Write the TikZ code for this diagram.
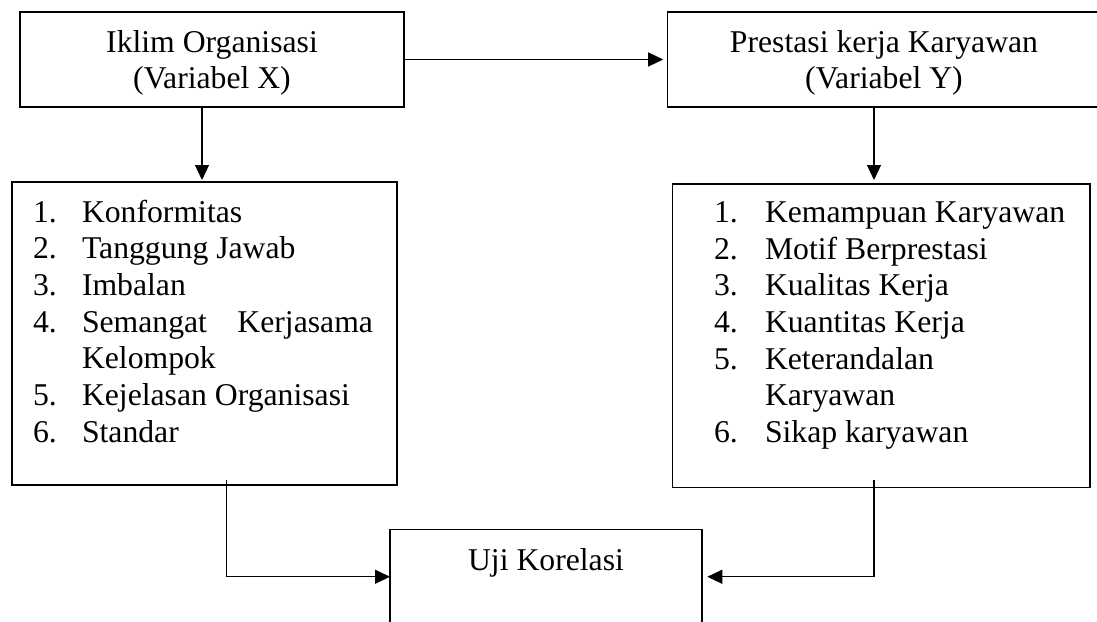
\documentclass[tikz,border=0pt]{standalone}
\usepackage{fontspec}
\setmainfont{Liberation Serif}
\usetikzlibrary{arrows.meta}
\begin{document}
\begin{tikzpicture}[x=1pt,y=-1pt,
  box/.style={draw, line width=1.3pt, inner sep=0pt, outer sep=0pt},
  txt/.style={inner sep=0pt, outer sep=0pt, font=\fontsize{31.7pt}{36.6pt}\selectfont},
  arr/.style={line width=1.3pt, -{Triangle[length=15pt,width=14pt]}}]
\fill[white] (0,0) rectangle (1097,621);
\useasboundingbox (0,0) rectangle (1097,621);
% boxes
\node[box, minimum width=384pt, minimum height=95pt] (A) at (212,59.5) {};
\node[box, minimum width=432.6pt, minimum height=95pt] (B) at (884,59.5) {};
\node[box, minimum width=385pt, minimum height=303pt] (C) at (204.5,333.5) {};
\node[box, minimum width=417.3pt, minimum height=303.7pt] (D) at (881.35,335.85) {};
\node[box, minimum width=312pt, minimum height=110.5pt] (E) at (546,584.75) {};
% box titles
\node[txt, anchor=base] (a1) at (212,52) {Iklim Organisasi};
\node[txt, anchor=base] (a2) at (212,88) {(Variabel X)};
\node[txt, anchor=base] (b1) at (884,52) {Prestasi kerja Karyawan};
\node[txt, anchor=base] (b2) at (884,88) {(Variabel Y)};
\node[txt, anchor=base] (e1) at (546,570) {Uji Korelasi};
% left list
\node[txt, anchor=base west] (cn1) at (33,222) {1.};
\node[txt, anchor=base west] (ct1) at (82,222) {Konformitas};
\node[txt, anchor=base west] (cn2) at (33,258.7) {2.};
\node[txt, anchor=base west] (ct2) at (82,258.7) {Tanggung Jawab};
\node[txt, anchor=base west] (cn3) at (33,295.3) {3.};
\node[txt, anchor=base west] (ct3) at (82,295.3) {Imbalan};
\node[txt, anchor=base west] (cn4) at (33,332) {4.};
\node[txt, anchor=base west] (ct4) at (82,332) {Semangat};
\node[txt, anchor=base east] (ct4b) at (373,332) {Kerjasama};
\node[txt, anchor=base west] (ct4c) at (82,368.7) {Kelompok};
\node[txt, anchor=base west] (cn5) at (33,405.3) {5.};
\node[txt, anchor=base west] (ct5) at (82,405.3) {Kejelasan Organisasi};
\node[txt, anchor=base west] (cn6) at (33,442) {6.};
\node[txt, anchor=base west] (ct6) at (82,442) {Standar};
% right list
\node[txt, anchor=base west] (dn1) at (714,222.5) {1.};
\node[txt, anchor=base west] (dt1) at (765,222.5) {Kemampuan Karyawan};
\node[txt, anchor=base west] (dn2) at (714,259.2) {2.};
\node[txt, anchor=base west] (dt2) at (765,259.2) {Motif Berprestasi};
\node[txt, anchor=base west] (dn3) at (714,295.8) {3.};
\node[txt, anchor=base west] (dt3) at (765,295.8) {Kualitas Kerja};
\node[txt, anchor=base west] (dn4) at (714,332.5) {4.};
\node[txt, anchor=base west] (dt4) at (765,332.5) {Kuantitas Kerja};
\node[txt, anchor=base west] (dn5) at (714,369.2) {5.};
\node[txt, anchor=base west] (dt5) at (765,369.2) {Keterandalan};
\node[txt, anchor=base west] (dt5b) at (765,405.8) {Karyawan};
\node[txt, anchor=base west] (dn6) at (714,442.5) {6.};
\node[txt, anchor=base west] (dt6) at (765,442.5) {Sikap karyawan};
% connectors
\draw[arr, shorten >=4.5pt] (A) -- (B);
\draw[arr, shorten >=2pt] ([xshift=-10pt]A.south) -- ([xshift=-10pt]A.south |- C.north);
\draw[arr, shorten >=4pt] ([xshift=-10pt]B.south) -- ([xshift=-10pt]B.south |- D.north);
\draw[arr] ([xshift=22.2pt,yshift=5pt]C.south) |- ([yshift=8pt]E.west);
\draw[arr, shorten >=5.3pt] ([xshift=-7.35pt,yshift=7.7pt]D.south) |- ([yshift=8pt]E.east);
\end{tikzpicture}
\end{document}
